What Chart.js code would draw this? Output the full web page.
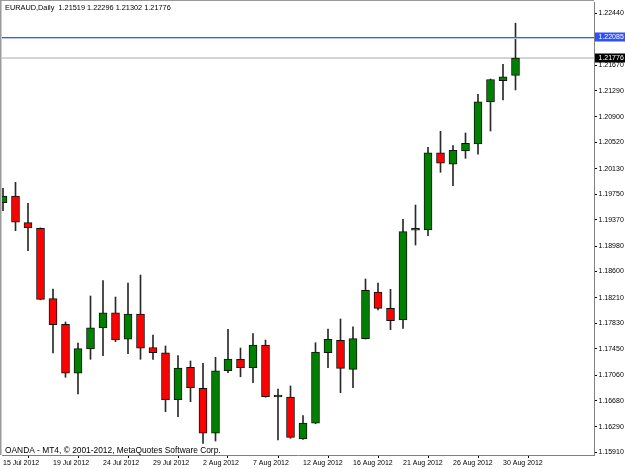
<!DOCTYPE html>
<html><head><meta charset="utf-8">
<script src="https://cdn.jsdelivr.net/npm/chart.js@4/dist/chart.umd.min.js"></script>
<style>html,body{margin:0;padding:0;background:#fff;}canvas{display:block;}</style>
</head><body>
<canvas id="c" width="625" height="469"></canvas>
<script>
const symbol = 'EURAUD';
const timeframe = 'Daily';
const dates = ['15 Jul 2012','16 Jul 2012','17 Jul 2012','18 Jul 2012','19 Jul 2012','20 Jul 2012',
  '22 Jul 2012','23 Jul 2012','24 Jul 2012','25 Jul 2012','26 Jul 2012','27 Jul 2012',
  '29 Jul 2012','30 Jul 2012','31 Jul 2012','1 Aug 2012','2 Aug 2012','3 Aug 2012',
  '5 Aug 2012','6 Aug 2012','7 Aug 2012','8 Aug 2012','9 Aug 2012','10 Aug 2012',
  '12 Aug 2012','13 Aug 2012','14 Aug 2012','15 Aug 2012','16 Aug 2012','17 Aug 2012',
  '19 Aug 2012','20 Aug 2012','21 Aug 2012','22 Aug 2012','23 Aug 2012','24 Aug 2012',
  '26 Aug 2012','27 Aug 2012','28 Aug 2012','29 Aug 2012','30 Aug 2012','31 Aug 2012'];
const open  = [1.19624,1.19724,1.19327,1.19243,1.18196,1.17815,1.17086,1.17447,1.17760,1.17987,1.17592,1.17968,
  1.17467,1.17392,1.16693,1.17175,1.16862,1.16193,1.17124,1.17294,1.17169,1.17507,1.16733,1.16733,
  1.16108,1.16342,1.17392,1.17577,1.17145,1.17601,1.18295,1.18053,1.17879,1.19214,1.19218,1.20368,
  1.20196,1.20394,1.20498,1.21123,1.21440,1.21519];
const high  = [1.19839,1.19928,1.19615,1.19250,1.18340,1.17849,1.17537,1.18236,1.18464,1.18221,1.18429,1.18548,
  1.17656,1.17492,1.17348,1.17269,1.17234,1.17324,1.17740,1.17462,1.17675,1.17581,1.16852,1.16897,
  1.16455,1.17541,1.17745,1.17894,1.17779,1.18489,1.18429,1.18336,1.19377,1.19590,1.20449,1.20687,
  1.20473,1.20662,1.21237,1.21465,1.21684,1.22296];
const low   = [1.19505,1.19208,1.18910,1.18180,1.17388,1.17026,1.16778,1.17294,1.17348,1.17556,1.17377,1.17294,
  1.17294,1.16514,1.16440,1.16663,1.16044,1.16078,1.17095,1.17035,1.16946,1.16730,1.16093,1.16118,
  1.16100,1.16335,1.17169,1.16797,1.16871,1.17595,1.18028,1.17734,1.17755,1.18995,1.19133,1.20077,
  1.19877,1.20285,1.20345,1.20691,1.21153,1.21302];
const close = [1.19724,1.19333,1.19252,1.18187,1.17809,1.17086,1.17452,1.17764,1.17987,1.17581,1.17968,1.17458,
  1.17392,1.16693,1.17165,1.16871,1.16193,1.17124,1.17298,1.17169,1.17507,1.16737,1.16733,1.16133,
  1.16346,1.17403,1.17592,1.17160,1.17601,1.18321,1.18053,1.17868,1.19193,1.19214,1.20368,1.20211,
  1.20404,1.20508,1.21127,1.21458,1.21499,1.21776];
const yTickValues = [1.15910,1.16290,1.16680,1.17060,1.17450,1.17830,1.18210,1.18600,1.18980,
  1.19370,1.19750,1.20130,1.20520,1.20900,1.21290,1.21670,1.22060,1.22440];
const xTickIdx = [0,4,8,12,16,20,24,28,32,36,40];
const xTickLabels = ['15 Jul 2012','19 Jul 2012','24 Jul 2012','29 Jul 2012','2 Aug 2012','7 Aug 2012',
  '12 Aug 2012','16 Aug 2012','21 Aug 2012','26 Aug 2012','30 Aug 2012'];
const lineLevel = 1.22085;
const copyright = 'OANDA - MT4, \u00A9 2001-2012, MetaQuotes Software Corp.';

const FONT = "'Liberation Sans', Arial, sans-serif";
const n = dates.length;
const last = n - 1;

const bodyData = dates.map((d, i) => ({x: i, y: [open[i], close[i]]}));
const wickData = dates.map((d, i) => ({x: i, y: [low[i], high[i]]}));
const bodyColors = dates.map((d, i) => close[i] >= open[i] ? '#008000' : '#ff0000');

const mt4Plugin = {
  id: 'mt4',
  beforeDatasetsDraw(chart) {
    const {ctx, chartArea: a, scales: {y}} = chart;
    ctx.save();
    ctx.beginPath(); ctx.rect(a.left, a.top, a.right - a.left, a.bottom - a.top); ctx.clip();
    const yc = Math.round(y.getPixelForValue(close[last]));
    ctx.fillStyle = '#d4d4d4';
    ctx.fillRect(a.left, yc - 1, a.right - a.left, 2);
    ctx.restore();
  },
  afterDatasetsDraw(chart) {
    const {ctx, chartArea: a, scales: {y}} = chart;
    ctx.save();
    const yb = Math.round(y.getPixelForValue(lineLevel));
    ctx.fillStyle = '#3a5aff';
    ctx.fillRect(a.left, yb, a.right - a.left, 1);
    ctx.fillStyle = '#b8c4ff';
    ctx.fillRect(a.left, yb + 1, a.right - a.left, 1);
    ctx.restore();
  },
  afterDraw(chart) {
    const {ctx, chartArea: a, scales: {y}} = chart;
    ctx.save();
    ctx.fillStyle = '#9a9a9a';
    ctx.fillRect(0, 0, 1.5, a.bottom);
    ctx.fillRect(0, 0, a.right, 1);
    ctx.fillStyle = '#000';
    ctx.textBaseline = 'alphabetic';
    ctx.textAlign = 'left';
    ctx.font = '7.35px ' + FONT;
    const f = v => v.toFixed(5);
    ctx.fillText(symbol + ',' + timeframe + '  ' + f(open[last]) + ' ' + f(high[last]) + ' ' + f(low[last]) + ' ' + f(close[last]), 5, 10);
    ctx.font = '8.4px ' + FONT;
    ctx.fillText(copyright, 5, 452.5);
    ctx.font = '7px ' + FONT;
    ctx.textBaseline = 'middle';
    const labels = [[lineLevel, '#2f50ff'], [close[last], '#000000']];
    labels.forEach(([v, col]) => {
      const py = y.getPixelForValue(v);
      ctx.fillStyle = col;
      ctx.fillRect(a.right + 1, Math.round(py) - 4.5, 625 - a.right - 1, 9);
      ctx.fillStyle = '#fff';
      ctx.fillText(f(v), a.right + 4.5, py);
    });
    ctx.restore();
  }
};

new Chart(document.getElementById('c'), {
  type: 'bar',
  data: {
    datasets: [
      {
        data: bodyData,
        backgroundColor: bodyColors,
        borderColor: '#111',
        borderWidth: 1,
        borderSkipped: false,
        barThickness: 8,
        maxBarThickness: 8,
        minBarLength: 2,
        grouped: false,
        clip: 0
      },
      {
        data: wickData,
        backgroundColor: '#2a2a2a',
        borderWidth: 0,
        barThickness: 1,
        maxBarThickness: 1,
        grouped: false,
        clip: 0
      }
    ]
  },
  options: {
    responsive: false,
    animation: false,
    devicePixelRatio: 1,
    layout: {padding: {left: 2, top: 2, right: 0, bottom: 0}},
    plugins: {legend: {display: false}, tooltip: {enabled: false}, title: {display: false}},
    scales: {
      x: {
        type: 'linear',
        min: -0.08,
        max: 47.28,
        offset: false,
        afterBuildTicks: s => { s.ticks = xTickIdx.map(v => ({value: v})); },
        afterFit: s => { s.height = 14; s.paddingLeft = 0; s.paddingRight = 0; },
        grid: {display: true, drawOnChartArea: false, drawTicks: true, tickLength: 3, tickColor: '#000'},
        border: {display: true, color: '#808080', width: 1},
        ticks: {
          autoSkip: false, maxRotation: 0, minRotation: 0, align: 'start', padding: 1,
          color: '#000', font: {family: FONT, size: 7},
          callback: v => { const k = xTickIdx.indexOf(v); return k >= 0 ? xTickLabels[k] : ''; }
        }
      },
      y: {
        type: 'linear',
        position: 'right',
        min: 1.15870,
        max: 1.22611,
        afterBuildTicks: s => { s.ticks = yTickValues.map(v => ({value: v})); },
        afterFit: s => { s.width = 31; s.paddingTop = 0; s.paddingBottom = 0; },
        grid: {display: true, drawOnChartArea: false, drawTicks: true, tickLength: 3, tickColor: '#000'},
        border: {display: true, color: '#808080', width: 1},
        ticks: {
          autoSkip: false, padding: 1.5, color: '#000', font: {family: FONT, size: 7},
          callback: v => Number(v).toFixed(5)
        }
      }
    }
  },
  plugins: [mt4Plugin]
});
</script>
</body></html>
